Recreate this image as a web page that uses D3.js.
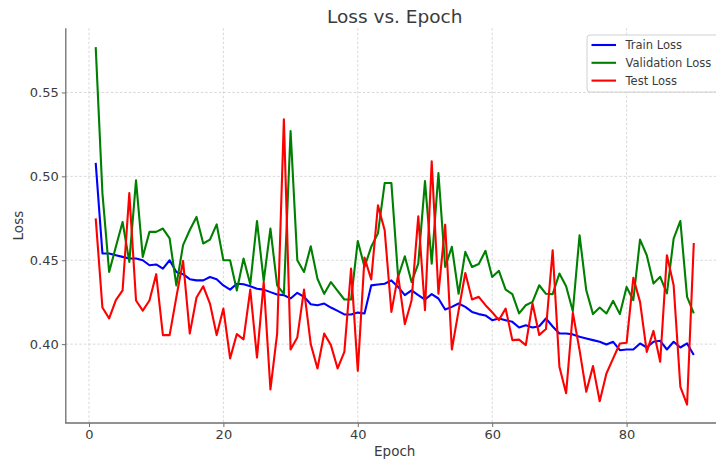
<!DOCTYPE html>
<html>
<head>
<meta charset="utf-8">
<script src="https://cdn.jsdelivr.net/npm/d3@7"></script>
<style>
  html, body { margin: 0; padding: 0; background: #fff; }
  svg { display: block; font-family: "DejaVu Sans", sans-serif; }
</style>
</head>
<body>
<svg id="chart" width="716" height="464"></svg>
<script>
// Loss curves per epoch
const epochs = d3.range(1, 91);

const trainLoss = [
  0.508, 0.454, 0.454, 0.453, 0.452, 0.451, 0.451, 0.450, 0.447, 0.4475,
  0.445, 0.450, 0.443, 0.4417, 0.4387, 0.438, 0.438, 0.440, 0.4387, 0.435,
  0.4325, 0.436, 0.4357, 0.4345, 0.433, 0.4325, 0.431, 0.4296, 0.4292, 0.4272,
  0.4306, 0.4282, 0.4238, 0.4232, 0.4242, 0.4218, 0.4198, 0.4177, 0.4177, 0.4188,
  0.4183, 0.435, 0.4355, 0.436, 0.438, 0.4341, 0.4292, 0.4321, 0.4292, 0.4266,
  0.4298, 0.4272, 0.4206, 0.4222, 0.4242, 0.4222, 0.4192, 0.4179, 0.4171, 0.4143,
  0.4153, 0.4143, 0.4133, 0.4099, 0.4113, 0.4099, 0.4107, 0.4153, 0.4105, 0.4063,
  0.4063, 0.4058, 0.4044, 0.4034, 0.4024, 0.4014, 0.3998, 0.4014, 0.3964, 0.3968,
  0.3968, 0.4004, 0.398, 0.4014, 0.402, 0.3968, 0.4014, 0.398, 0.4004, 0.3935
];

const validationLoss = [
  0.577, 0.490, 0.443, 0.458, 0.4728, 0.449, 0.4976, 0.452, 0.4669, 0.4669,
  0.4689, 0.463, 0.435, 0.459, 0.468, 0.4758, 0.460, 0.4623, 0.4714, 0.450,
  0.450, 0.432, 0.451, 0.4357, 0.4734, 0.4377, 0.4689, 0.435, 0.430, 0.527,
  0.450, 0.443, 0.4583, 0.439, 0.430, 0.437, 0.4317, 0.4266, 0.4266, 0.4615,
  0.446, 0.458, 0.466, 0.496, 0.496, 0.440, 0.4524, 0.437, 0.448, 0.4972,
  0.448, 0.502, 0.446, 0.458, 0.430, 0.455, 0.446, 0.4478, 0.4556, 0.440,
  0.4437, 0.4325, 0.4298, 0.4183, 0.4232, 0.4252, 0.4351, 0.430, 0.4298, 0.4421,
  0.4345, 0.4196, 0.4649, 0.4321, 0.4179, 0.4218, 0.4183, 0.4258, 0.4179, 0.4341,
  0.4262, 0.4623, 0.453, 0.4361, 0.4401, 0.4302, 0.4629, 0.4734, 0.4282, 0.4183
];

const testLoss = [
  0.475, 0.4218, 0.4153, 0.4262, 0.432, 0.490, 0.426, 0.420, 0.426, 0.4417,
  0.4054, 0.4054, 0.428, 0.4496, 0.4063, 0.4278, 0.4345, 0.4242, 0.4054, 0.4212,
  0.3915, 0.406, 0.4028, 0.4325, 0.392, 0.437, 0.373, 0.4063, 0.534, 0.3968,
  0.404, 0.4325, 0.400, 0.3855, 0.4063, 0.3994, 0.3855, 0.3954, 0.445, 0.3841,
  0.4516, 0.4385, 0.4827, 0.4679, 0.4192, 0.441, 0.4119, 0.426, 0.4762, 0.4202,
  0.509, 0.430, 0.4712, 0.3968, 0.420, 0.4424, 0.4266, 0.4282, 0.4232, 0.419,
  0.4143, 0.4212, 0.4024, 0.4027, 0.3994, 0.4242, 0.4055, 0.409, 0.456, 0.3865,
  0.3707, 0.4187, 0.3964, 0.3716, 0.3869, 0.366, 0.3825, 0.3915, 0.4004, 0.4008,
  0.4395, 0.4252, 0.3954, 0.4079, 0.3895, 0.453, 0.4351, 0.3746, 0.364, 0.4603
];

const seriesNames = ["Train Loss", "Validation Loss", "Test Loss"];
const seriesColors = ["#0000ff", "#008000", "#ff0000"];
const xTicks = [0, 20, 40, 60, 80];
const yTicks = [0.40, 0.45, 0.50, 0.55];

const series = [trainLoss, validationLoss, testLoss].map((vals, i) => ({
  name: seriesNames[i],
  color: seriesColors[i],
  points: epochs.map((e, j) => [e, vals[j]])
}));

const svg = d3.select("#chart");
const plot = { left: 65.8, right: 723.7, top: 28.2, bottom: 423 };

const x = d3.scaleLinear().domain([-3.45, 94.45]).range([plot.left, plot.right]);
const y = d3.scaleLinear().domain([0.353, 0.5883]).range([plot.bottom, plot.top]);

const textColor = "#3b3b3b";
const spineColor = "#6e6e6e";

// grid
const grid = svg.append("g");
grid.selectAll("line.gx").data(xTicks).join("line")
  .attr("x1", d => x(d)).attr("x2", d => x(d))
  .attr("y1", plot.top).attr("y2", plot.bottom)
  .attr("stroke", "#d4d4d4").attr("stroke-width", 0.9).attr("stroke-dasharray", "2.5,2");
grid.selectAll("line.gy").data(yTicks).join("line")
  .attr("x1", plot.left).attr("x2", plot.right)
  .attr("y1", d => y(d)).attr("y2", d => y(d))
  .attr("stroke", "#d4d4d4").attr("stroke-width", 0.9).attr("stroke-dasharray", "2.5,2");

// lines
const line = d3.line().x(d => x(d[0])).y(d => y(d[1]));
svg.append("g").selectAll("path").data(series).join("path")
  .attr("d", d => line(d.points))
  .attr("fill", "none")
  .attr("stroke", d => d.color)
  .attr("stroke-width", 2.1)
  .attr("stroke-linejoin", "round");

// axes
const xAxis = d3.axisBottom(x).tickValues(xTicks).tickFormat(d3.format("d")).tickSize(4).tickPadding(3);
const yAxis = d3.axisLeft(y).tickValues(yTicks).tickFormat(d3.format(".2f")).tickSize(4).tickPadding(3);

const gx = svg.append("g").attr("transform", `translate(0,${plot.bottom})`).call(xAxis);
const gy = svg.append("g").attr("transform", `translate(${plot.left},0)`).call(yAxis);
[gx, gy].forEach(g => {
  g.select(".domain").remove();
  g.selectAll(".tick line").attr("stroke", spineColor).attr("stroke-width", 1);
  g.selectAll(".tick text").attr("fill", textColor).attr("font-size", 13)
    .attr("font-family", "DejaVu Sans, sans-serif");
});

// spines (left and bottom)
svg.append("line").attr("x1", plot.left).attr("x2", plot.left)
  .attr("y1", plot.top).attr("y2", plot.bottom)
  .attr("stroke", spineColor).attr("stroke-width", 1.3);
svg.append("line").attr("x1", plot.left - 0.65).attr("x2", plot.right)
  .attr("y1", plot.bottom).attr("y2", plot.bottom)
  .attr("stroke", spineColor).attr("stroke-width", 1.3);

// titles
svg.append("text").attr("x", (plot.left + plot.right) / 2).attr("y", 22.5)
  .attr("text-anchor", "middle").attr("font-size", 18.5).attr("fill", textColor)
  .text("Loss vs. Epoch");
svg.append("text").attr("x", (plot.left + plot.right) / 2).attr("y", 456)
  .attr("text-anchor", "middle").attr("font-size", 13.5).attr("fill", textColor)
  .text("Epoch");
svg.append("text").attr("transform", `translate(23,${(plot.top + plot.bottom) / 2}) rotate(-90)`)
  .attr("text-anchor", "middle").attr("font-size", 13.5).attr("fill", textColor)
  .text("Loss");

// legend
const legend = svg.append("g").attr("transform", "translate(587,35)");
legend.append("rect").attr("width", 140).attr("height", 57).attr("rx", 3)
  .attr("fill", "#fff").attr("fill-opacity", 0.85)
  .attr("stroke", "#d0d0d0").attr("stroke-width", 1);
const rows = legend.selectAll("g.row").data(series).join("g")
  .attr("transform", (d, i) => `translate(0,${10 + i * 17.8})`);
rows.append("line").attr("x1", 4.5).attr("x2", 29)
  .attr("stroke", d => d.color).attr("stroke-width", 2.1);
rows.append("text").attr("x", 38.5).attr("dy", "0.36em")
  .attr("font-size", 11.5).attr("fill", textColor)
  .text(d => d.name);
</script>
</body>
</html>
